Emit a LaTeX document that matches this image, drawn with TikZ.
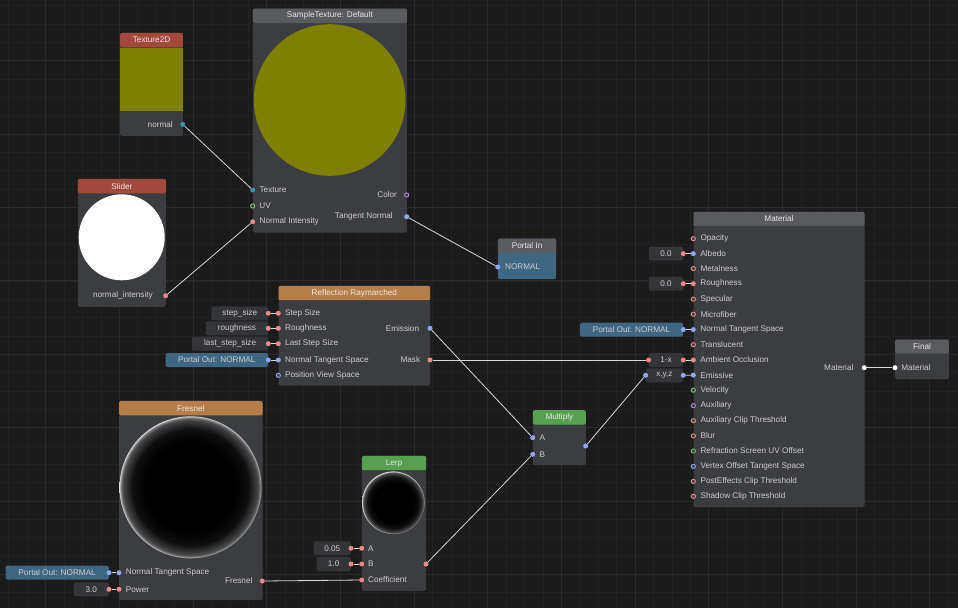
\documentclass[tikz,border=0pt]{standalone}
\usepackage{fontspec}
\setmainfont{Liberation Sans}
\usetikzlibrary{positioning}

\definecolor{canvas}{HTML}{1B1B1B}
\definecolor{gridminor}{HTML}{222222}
\definecolor{gridmajor}{HTML}{2B2B2B}
\definecolor{nodebg}{HTML}{3C3D40}
\definecolor{boxbg}{HTML}{343538}
\definecolor{hdgrey}{HTML}{5A5B5E}
\definecolor{hdred}{HTML}{A3483D}
\definecolor{hdorange}{HTML}{B57E49}
\definecolor{hdgreen}{HTML}{57A050}
\definecolor{portalblue}{HTML}{3D6783}
\definecolor{txt}{HTML}{CDCDCD}
\definecolor{headtxt}{HTML}{E8E8E8}
\definecolor{wirecol}{HTML}{D8D8D8}
\definecolor{pred}{HTML}{EC8A8A}
\definecolor{pblue}{HTML}{8EA9F2}
\definecolor{pteal}{HTML}{3D93B8}
\definecolor{pgreen}{HTML}{6CC06C}
\definecolor{ppurple}{HTML}{B47FE0}
\definecolor{texolive}{HTML}{808000}
\definecolor{fresA}{gray}{0.06}
\definecolor{fresB}{gray}{0.28}
\definecolor{fresC}{gray}{0.50}
\definecolor{fresD}{gray}{0.85}

\pgfdeclareradialshading{fresnelglow}{\pgfpoint{0bp}{0bp}}{color(0bp)=(black); color(16bp)=(black); color(20.5bp)=(fresA); color(23.8bp)=(fresB); color(24.6bp)=(fresC); color(25bp)=(fresD); color(50bp)=(fresD)}

\tikzstyle{wire} = [draw=wirecol, line width=0.8pt]
\tikzstyle{minorline} = [draw=gridminor, line width=0.8pt]
\tikzstyle{majorline} = [draw=gridmajor, line width=1pt]
\tikzstyle{body} = [fill=nodebg, rounded corners=2pt, inner sep=0pt, anchor=north west]
\tikzstyle{head} = [rounded corners=2pt, inner sep=0pt, anchor=north west, minimum height=14.5pt, text=headtxt, font=\fontsize{8.2}{10}\selectfont]
\tikzstyle{sock} = [circle, inner sep=0pt, minimum size=5pt]
\tikzstyle{hsock} = [circle, inner sep=0pt, minimum size=4.2pt, fill=nodebg, line width=0.9pt]
\tikzstyle{lbl} = [text=txt, font=\fontsize{8.2}{10}\selectfont, inner sep=0pt]
\tikzstyle{valbox} = [fill=boxbg, rounded corners=2pt, inner sep=0pt, minimum height=14pt, text=txt, font=\fontsize{8.2}{10}\selectfont, anchor=east]
\tikzstyle{preview} = [circle, inner sep=0pt]

\begin{document}
\begin{tikzpicture}[x=1pt, y=-1pt]
% canvas and grid
\useasboundingbox (0,0) rectangle (958,608);
\fill[canvas] (0,0) rectangle (958,608);
\foreach \i in {-3,...,49} \draw[minorline] ({45.7+18.42*\i},0) -- ++(0,608);
\foreach \j in {-4,...,30} \draw[minorline] (0,{60.7+18.35*\j}) -- ++(958,0);
\foreach \i in {0,...,12} \draw[majorline] ({45.7+73.68*\i},0) -- ++(0,608);
\foreach \j in {0,...,7} \draw[majorline] (0,{60.7+73.4*\j}) -- ++(958,0);

% Texture2D
\node[body, minimum width=62.7pt, minimum height=103pt] (tex) at (120,32.7) {};
\node[fill=texolive, inner sep=0pt, anchor=north west, minimum width=62.7pt, minimum height=63.3pt] (tex-img) at (120,47.7) {};
\node[head, fill=hdred, minimum width=62.7pt] (tex-head) at (tex.north west) {Texture2D};
\node[sock, fill=pteal] (tex-normal) at (182.7,124.3) {};
\node[lbl, left=7pt of tex-normal] (tex-normal-l) {normal};

% SampleTexture
\node[body, minimum width=154pt, minimum height=224pt] (samp) at (252.7,8.3) {};
\node[head, fill=hdgrey, minimum width=154pt] (samp-head) at (samp.north west) {SampleTexture: Default};
\node[preview, fill=texolive, minimum size=151.6pt] (samp-img) at (329.7,100) {};
\node[sock, fill=pteal] (samp-tex) at (252.7,190) {};
\node[hsock, draw=pgreen] (samp-uv) at (252.7,206) {};
\node[sock, fill=pred] (samp-ni) at (252.7,221.7) {};
\node[hsock, draw=ppurple] (samp-col) at (406.7,195) {};
\node[sock, fill=pblue] (samp-tn) at (406.7,216.7) {};
\node[lbl, right=4pt of samp-tex] (samp-tex-l) {Texture};
\node[lbl, right=4pt of samp-uv] (samp-uv-l) {UV};
\node[lbl, right=4pt of samp-ni] (samp-ni-l) {Normal Intensity};
\node[lbl, left=7pt of samp-col] (samp-col-l) {Color};
\node[lbl, left=11pt of samp-tn] (samp-tn-l) {Tangent Normal};

% Slider
\node[body, minimum width=88pt, minimum height=128pt] (slider) at (77.7,178.7) {};
\node[head, fill=hdred, minimum width=88pt] (slider-head) at (slider.north west) {Slider};
\node[preview, fill=white, minimum size=86pt] (slider-img) at (121.7,237.3) {};
\node[sock, fill=pred] (slider-out) at (165.7,295.7) {};
\node[lbl, left=10pt of slider-out] (slider-out-l) {normal\_intensity};

% Portal In
\node[body, fill=portalblue, minimum width=58.3pt, minimum height=40.7pt] (portin) at (497.7,238.3) {};
\node[head, fill=hdgrey, minimum width=58.3pt, minimum height=14pt] (portin-head) at (portin.north west) {Portal In};
\node[sock, fill=pblue] (portin-in) at (497.7,267) {};
\node[lbl, right=4.5pt of portin-in] (portin-in-l) {NORMAL};

% Reflection Raymarched
\node[body, minimum width=151.7pt, minimum height=99.6pt] (refl) at (278.3,285.7) {};
\node[head, fill=hdorange, minimum width=151.7pt, minimum height=14.3pt] (refl-head) at (refl.north west) {Reflection Raymarched};
\node[sock, fill=pred] (refl-ss) at (278.3,313.3) {};
\node[sock, fill=pred] (refl-rough) at (278.3,328.3) {};
\node[sock, fill=pred] (refl-lss) at (278.3,343.7) {};
\node[sock, fill=pblue] (refl-nts) at (278.3,360) {};
\node[hsock, draw=pblue] (refl-pvs) at (278.3,375.3) {};
\node[sock, fill=pblue] (refl-em) at (430,328.3) {};
\node[sock, fill=pred] (refl-mask) at (430,360) {};
\node[lbl, right=4pt of refl-ss] (refl-ss-l) {Step Size};
\node[lbl, right=4pt of refl-rough] (refl-rough-l) {Roughness};
\node[lbl, right=4pt of refl-lss] (refl-lss-l) {Last Step Size};
\node[lbl, right=4pt of refl-nts] (refl-nts-l) {Normal Tangent Space};
\node[lbl, right=4pt of refl-pvs] (refl-pvs-l) {Position View Space};
\node[lbl, left=8pt of refl-em] (refl-em-l) {Emission};
\node[lbl, left=7pt of refl-mask] (refl-mask-l) {Mask};
\node[valbox, minimum width=56.6pt] (ss-val) at (268.3,313.3) {step\_size};
\node[valbox, minimum width=62.3pt] (rough-val) at (268.3,328.3) {roughness};
\node[valbox, minimum width=76pt] (lss-val) at (268.3,343.7) {last\_step\_size};
\node[valbox, fill=portalblue, minimum width=102.6pt] (refl-portal) at (268.3,360) {Portal Out: NORMAL};
\node[sock, fill=pred] (ss-dot) at (ss-val.east) {};
\node[sock, fill=pred] (rough-dot) at (rough-val.east) {};
\node[sock, fill=pred] (lss-dot) at (lss-val.east) {};
\node[sock, fill=pblue] (refl-portal-dot) at (refl-portal.east) {};

% Material
\node[body, minimum width=171pt, minimum height=295.3pt] (mat) at (693.3,211.7) {};
\node[head, fill=hdgrey, minimum width=171pt, minimum height=14.3pt] (mat-head) at (mat.north west) {Material};
\node[hsock, draw=pred] (mat-op) at (693.3,238.7) {};
\node[sock, fill=pblue] (mat-alb) at (693.3,253.6) {};
\node[hsock, draw=pred] (mat-met) at (693.3,268.6) {};
\node[sock, fill=pred] (mat-rough) at (693.3,283.7) {};
\node[hsock, draw=pred] (mat-spec) at (693.3,299.1) {};
\node[hsock, draw=pred] (mat-micro) at (693.3,314.2) {};
\node[sock, fill=pblue] (mat-nts) at (693.3,329.6) {};
\node[hsock, draw=pred] (mat-trans) at (693.3,344.7) {};
\node[sock, fill=pred] (mat-ao) at (693.3,360) {};
\node[sock, fill=pblue] (mat-emis) at (693.3,375.1) {};
\node[hsock, draw=pgreen] (mat-vel) at (693.3,390.2) {};
\node[hsock, draw=ppurple] (mat-aux) at (693.3,405.6) {};
\node[hsock, draw=pred] (mat-auxct) at (693.3,420.7) {};
\node[hsock, draw=pred] (mat-blur) at (693.3,435.9) {};
\node[hsock, draw=pgreen] (mat-rsuv) at (693.3,451) {};
\node[hsock, draw=pblue] (mat-vots) at (693.3,466.4) {};
\node[hsock, draw=pred] (mat-pect) at (693.3,481.4) {};
\node[hsock, draw=pred] (mat-shct) at (693.3,496.3) {};
\node[lbl, right=4.5pt of mat-op] (mat-op-l) {Opacity};
\node[lbl, right=4.2pt of mat-alb] (mat-alb-l) {Albedo};
\node[lbl, right=4.5pt of mat-met] (mat-met-l) {Metalness};
\node[lbl, right=4.2pt of mat-rough] (mat-rough-l) {Roughness};
\node[lbl, right=4.5pt of mat-spec] (mat-spec-l) {Specular};
\node[lbl, right=4.5pt of mat-micro] (mat-micro-l) {Microfiber};
\node[lbl, right=4.2pt of mat-nts] (mat-nts-l) {Normal Tangent Space};
\node[lbl, right=4.5pt of mat-trans] (mat-trans-l) {Translucent};
\node[lbl, right=4.2pt of mat-ao] (mat-ao-l) {Ambient Occlusion};
\node[lbl, right=4.2pt of mat-emis] (mat-emis-l) {Emissive};
\node[lbl, right=4.5pt of mat-vel] (mat-vel-l) {Velocity};
\node[lbl, right=4.5pt of mat-aux] (mat-aux-l) {Auxiliary};
\node[lbl, right=4.5pt of mat-auxct] (mat-auxct-l) {Auxiliary Clip Threshold};
\node[lbl, right=4.5pt of mat-blur] (mat-blur-l) {Blur};
\node[lbl, right=4.5pt of mat-rsuv] (mat-rsuv-l) {Refraction Screen UV Offset};
\node[lbl, right=4.5pt of mat-vots] (mat-vots-l) {Vertex Offset Tangent Space};
\node[lbl, right=4.5pt of mat-pect] (mat-pect-l) {PostEffects Clip Threshold};
\node[lbl, right=4.5pt of mat-shct] (mat-shct-l) {Shadow Clip Threshold};
\node[sock, fill=white] (mat-out) at (864.3,367.7) {};
\node[lbl, left=8pt of mat-out] (mat-out-l) {Material};
\node[valbox, minimum width=34.3pt] (alb-val) at (683.3,253.6) {0.0};
\node[valbox, minimum width=34.3pt] (mrough-val) at (683.3,283.7) {0.0};
\node[valbox, fill=portalblue, minimum width=103pt] (mat-portal) at (683.3,329.6) {Portal Out: NORMAL};
\node[valbox, minimum width=34.3pt] (omx) at (683.3,360) {1-x};
\node[valbox, minimum width=37.3pt] (xyz) at (683.3,375.3) {x,y,z};
\node[sock, fill=pred] (alb-dot) at (alb-val.east) {};
\node[sock, fill=pred] (mrough-dot) at (mrough-val.east) {};
\node[sock, fill=pblue] (mat-portal-dot) at (mat-portal.east) {};
\node[sock, fill=pred] (omx-in) at (omx.west) {};
\node[sock, fill=pred] (omx-out) at (omx.east) {};
\node[sock, fill=pblue] (xyz-in) at (xyz.west) {};
\node[sock, fill=pblue] (xyz-out) at (xyz.east) {};

% Final
\node[body, minimum width=53.7pt, minimum height=39.7pt] (final) at (895,339.3) {};
\node[head, fill=hdgrey, minimum width=53.7pt, minimum height=14pt] (final-head) at (final.north west) {Final};
\node[sock, fill=white] (final-in) at (895,367.7) {};
\node[lbl, right=3.5pt of final-in] (final-in-l) {Material};

% Multiply
\node[body, minimum width=53pt, minimum height=55pt] (mult) at (532.7,410) {};
\node[head, fill=hdgreen, minimum width=53pt, minimum height=14.3pt] (mult-head) at (mult.north west) {Multiply};
\node[sock, fill=pblue] (mult-a) at (532.7,437.7) {};
\node[sock, fill=pblue] (mult-b) at (532.7,454.3) {};
\node[sock, fill=pblue] (mult-out) at (585.7,446) {};
\node[lbl, right=4pt of mult-a] (mult-a-l) {A};
\node[lbl, right=4pt of mult-b] (mult-b-l) {B};

% Fresnel
\node[body, minimum width=143.3pt, minimum height=199.3pt] (fres) at (119,400.7) {};
\node[head, fill=hdorange, minimum width=143.3pt] (fres-head) at (fres.north west) {Fresnel};
\node[preview, shading=fresnelglow, minimum size=142pt] (fres-img) at (190.5,487.3) {};
\node[sock, fill=pblue] (fres-nts) at (119,572.7) {};
\node[sock, fill=pred] (fres-pow) at (119,589.3) {};
\node[sock, fill=pred] (fres-out) at (262.3,581) {};
\node[lbl, right=4pt of fres-nts] (fres-nts-l) {Normal Tangent Space};
\node[lbl, right=4pt of fres-pow] (fres-pow-l) {Power};
\node[lbl, left=7pt of fres-out] (fres-out-l) {Fresnel};
\node[valbox, fill=portalblue, minimum width=103.3pt] (fres-portal) at (109,572.7) {Portal Out: NORMAL};
\node[valbox, minimum width=35pt] (pow-val) at (109,589.3) {3.0};
\node[sock, fill=pblue] (fres-portal-dot) at (fres-portal.east) {};
\node[sock, fill=pred] (pow-dot) at (pow-val.east) {};

% Lerp
\node[body, minimum width=64.3pt, minimum height=135pt] (lerp) at (361.7,455.7) {};
\node[head, fill=hdgreen, minimum width=64.3pt, minimum height=14.3pt] (lerp-head) at (lerp.north west) {Lerp};
\node[preview, shading=fresnelglow, minimum size=62.6pt] (lerp-img) at (393.3,502.7) {};
\node[sock, fill=pred] (lerp-a) at (361.7,548.3) {};
\node[sock, fill=pred] (lerp-b) at (361.7,564) {};
\node[sock, fill=pred] (lerp-coef) at (361.7,580) {};
\node[sock, fill=pred] (lerp-out) at (426,564) {};
\node[lbl, right=3.5pt of lerp-a] (lerp-a-l) {A};
\node[lbl, right=3.5pt of lerp-b] (lerp-b-l) {B};
\node[lbl, right=3.5pt of lerp-coef] (lerp-coef-l) {Coefficient};
\node[valbox, minimum width=37pt] (a-val) at (351,548.3) {0.05};
\node[valbox, minimum width=34.3pt] (b-val) at (351,564) {1.0};
\node[sock, fill=pred] (a-dot) at (a-val.east) {};
\node[sock, fill=pred] (b-dot) at (b-val.east) {};

% wires
\path[wire] (tex-normal) -- (samp-tex);
\path[wire] (slider-out) -- (samp-ni);
\path[wire] (samp-tn) -- (portin-in);
\path[wire] (refl-em) -- (mult-a);
\path[wire] (refl-mask) -- (omx-in);
\path[wire] (lerp-out) -- (mult-b);
\path[wire] (fres-out) -- (lerp-coef);
\path[wire] (mult-out) -- (xyz-in);
\path[wire] (mat-out) -- (final-in);
\path[wire] (ss-dot) -- (refl-ss);
\path[wire] (rough-dot) -- (refl-rough);
\path[wire] (lss-dot) -- (refl-lss);
\path[wire] (refl-portal-dot) -- (refl-nts);
\path[wire] (alb-dot) -- (mat-alb);
\path[wire] (mrough-dot) -- (mat-rough);
\path[wire] (mat-portal-dot) -- (mat-nts);
\path[wire] (omx-out) -- (mat-ao);
\path[wire] (xyz-out) -- (mat-emis);
\path[wire] (fres-portal-dot) -- (fres-nts);
\path[wire] (pow-dot) -- (fres-pow);
\path[wire] (a-dot) -- (lerp-a);
\path[wire] (b-dot) -- (lerp-b);
\end{tikzpicture}
\end{document}
